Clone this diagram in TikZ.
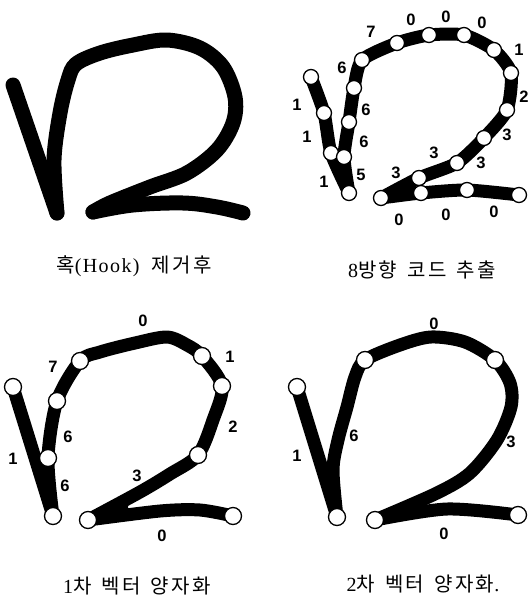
\documentclass[tikz,border=0pt]{standalone}
\usepackage{fontspec}
\setmainfont{Liberation Serif}
\newfontfamily\cjk[LetterSpace=12]{Noto Sans CJK KR}
\newfontfamily\capserif[LetterSpace=7]{Liberation Serif}
\newfontfamily\labfont{Liberation Sans}
\begin{document}
\begin{tikzpicture}[x=1pt,y=-1pt,
  inkline/.style={line width=#1,line cap=round,line join=round,black},
  dotnode/.style={circle,draw=black,fill=white,line width=1.3pt,minimum size=15pt,inner sep=0pt},
  dotbig/.style={dotnode,minimum size=17pt},
  codelab/.style={font=\labfont\bfseries\fontsize{16.5}{16.5}\selectfont,inner sep=0pt},
  captext/.style={font=\capserif\fontsize{20}{20}\selectfont,inner sep=0pt}]
\fill[white] (0,0) rectangle (528,598);
\useasboundingbox (0,0) rectangle (528,598);

% ---------- Panel 1 ----------
\draw[inkline=15pt] (13,85) -- (57,213);
\draw[inkline=15pt] plot[smooth,tension=0.55] coordinates {(57,213) (54,160) (60,113) (68,80) (76,64) (100,53) (133,45) (167,40) (200,48) (223,67) (235,97) (233,123) (217,150) (187,173) (150,187) (110,203) (93,212)};
\draw[inkline=15pt] plot[smooth,tension=0.6] coordinates {(93,212) (133,205) (183,203) (217,207) (243,213)};
\node[captext] (c1) at (134,266) {{\cjk 혹}(Hook)\hspace{0.6em}{\cjk 제거후}};

% ---------- Panel 2 ----------
\foreach \n/\x/\y in {a1/311/77,a2/324/113,a3/331/153,a4/349/193,b1/344/157,b2/349/122,b3/354/88,b4/362/60,b5/397/43,b6/429/35,b7/464/35,b8/494/50,b9/511/73,b10/507/110,b11/484/138,b12/457/163,b13/419/178,b14/381/198,b15/421/193,b16/467/190,b17/519/195}
  \coordinate (\n) at (\x,\y);
\draw[inkline=13pt] plot[smooth,tension=0.4] coordinates {(a1) (a2) (a3) (a4)};
\draw[inkline=13pt] plot[smooth,tension=0.4] coordinates {(a4) (b1) (b2) (b3) (b4) (b5) (b6) (b7) (b8) (b9) (b10) (b11) (b12) (b13) (b14)};
\draw[inkline=13pt] plot[smooth,tension=0.4] coordinates {(b14) (b15) (b16) (b17)};
\fill[black] (b14) -- (410,183) -- (410,193) -- cycle;
\foreach \n in {a1,a2,a3,a4,b1,b2,b3,b4,b5,b6,b7,b8,b9,b10,b11,b12,b13,b14,b15,b16,b17}
  \node[dotnode] (n\n) at (\n) {};
\foreach \x/\y/\t [count=\i] in {297/105/1,307/137/1,324/182/1,342/68/6,371/32/7,411/20/0,446/17/0,482/23/0,519/50/1,524/97/2,366/110/6,364/142/6,361/175/5,507/135/3,481/163/3,434/153/3,396/173/3,399/220/0,446/215/0,494/212/0}
  \node[codelab] (l2-\i) at (\x,\y) {\t};
\node[captext] (c2) at (422,270) {8{\cjk 방향}\hspace{0.5em}{\cjk 코드}\hspace{0.5em}{\cjk 추출}};

% ---------- Panel 3 ----------
\foreach \n/\x/\y in {p1/13/387,p2/53/516,p3/48/458,p4/57/401,p5/80/361,p6/202/356,p7/222/386,p8/198/455,p9/88/520,p10/233/516}
  \coordinate (\n) at (\x,\y);
\draw[inkline=13pt] (p1) -- (p2);
\draw[inkline=13pt] plot[smooth,tension=0.5] coordinates {(p2) (p3) (p4) (p5) (100,352) (135,343) (167,337) (187,345) (p6) (p7) (213,420) (p8) (170,474) (140,492) (p9)};
\draw[inkline=13pt] plot[smooth,tension=0.5] coordinates {(p9) (160,511) (200,510) (p10)};
\fill[black] (p9) -- (128,502) -- (128,514) -- cycle;
\foreach \n in {p1,p2,p3,p4,p5,p6,p7,p8,p9,p10}
  \node[dotbig] (n\n) at (\n) {};
\foreach \x/\y/\t [count=\i] in {143/321/0,53/367/7,230/357/1,68/437/6,13/459/1,65/486/6,233/427/2,137/476/3,162/536/0}
  \node[codelab] (l3-\i) at (\x,\y) {\t};
\node[captext] (c3) at (137,586) {1{\cjk 차}\hspace{0.5em}{\cjk 벡터}\hspace{0.5em}{\cjk 양자화}};

% ---------- Panel 4 ----------
\foreach \n/\x/\y in {q1/297/387,q2/337/517,q3/365/360,q4/495/360,q5/375/520,q6/518/515}
  \coordinate (\n) at (\x,\y);
\draw[inkline=13pt] (q1) -- (q2);
\draw[inkline=13pt] plot[smooth,tension=0.5] coordinates {(q2) (333,470) (338,440) (347,407) (355,377) (q3) (400,345) (431,337) (465,342) (q4) (510,383) (511,407) (497,440) (470,473) (437,493) (q5)};
\draw[inkline=13pt] plot[smooth,tension=0.5] coordinates {(q5) (447,509) (q6)};
\fill[black] (q5) -- (412,504) -- (412,514) -- cycle;
\foreach \n in {q1,q2,q3,q4,q5,q6}
  \node[dotbig] (n\n) at (\n) {};
\foreach \x/\y/\t [count=\i] in {434/324/0,297/456/1,354/436/6,511/442/3,444/534/0}
  \node[codelab] (l4-\i) at (\x,\y) {\t};
\node[captext] (c4) at (423,584) {2{\cjk 차}\hspace{0.5em}{\cjk 벡터}\hspace{0.5em}{\cjk 양자화}.};
\end{tikzpicture}
\end{document}
